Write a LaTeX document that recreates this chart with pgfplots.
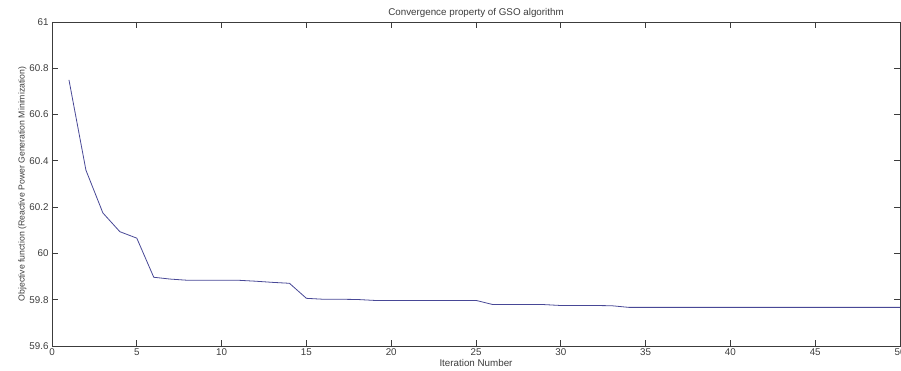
\documentclass[border=0pt]{standalone}
\usepackage{pgfplots}
\pgfplotsset{compat=1.18}
\usepackage{fontspec}
\setmainfont{Liberation Sans}
\definecolor{linec}{RGB}{72,72,150}
\definecolor{axc}{RGB}{60,60,60}
\begin{document}
\begin{tikzpicture}
\begin{axis}[
  name=ax,
  scale only axis,
  width=848pt, height=324pt,
  xmin=0, xmax=50, ymin=59.6, ymax=61,
  xtick={0,5,...,50},
  ytick={59.6,59.8,60,60.2,60.4,60.6,60.8,61},
  yticklabel style={/pgf/number format/fixed,/pgf/number format/precision=1},
  /pgf/number format/assume math mode=true,
  tick align=inside,
  major tick length=6pt,
  axis line style={axc, line width=0.8pt},
  tick style={axc, line width=0.8pt},
  ticklabel style={font=\fontsize{9.8}{11}\selectfont, text=axc},
  xticklabel style={yshift=1pt},
  title={Convergence property of GSO algorithm},
  title style={font=\fontsize{9.8}{11}\selectfont, text=axc, yshift=-5pt},
  xlabel={Iteration Number},
  xlabel style={font=\fontsize{9.8}{11}\selectfont, text=axc, yshift=3pt},
  ylabel={Objective function (Reactive Power Generation Minimization)},
  ylabel style={font=\fontsize{8.7}{10}\selectfont, text=axc, yshift=-4pt},
]
\addplot[linec, line width=0.8pt] coordinates {
(1,60.75) (2,60.36) (3,60.175) (4,60.094) (5,60.066) (6,59.897) (7,59.889)
(8,59.884) (9,59.884) (10,59.884) (11,59.884) (12,59.880) (13,59.875) (14,59.871)
(15,59.806) (16,59.802) (17,59.802) (18,59.801) (19,59.797) (20,59.797) (21,59.797)
(22,59.797) (23,59.797) (24,59.797) (25,59.797) (26,59.779) (27,59.779) (28,59.779)
(29,59.779) (30,59.775) (31,59.775) (32,59.775) (33,59.774) (34,59.767) (35,59.767)
(36,59.767) (37,59.767) (38,59.767) (39,59.767) (40,59.767) (41,59.767) (42,59.767)
(43,59.767) (44,59.767) (45,59.767) (46,59.767) (47,59.767) (48,59.767) (49,59.767) (50,59.767)
};
\end{axis}
\pgfresetboundingbox
\path[use as bounding box] ([xshift=-52pt,yshift=-24pt]ax.south west) rectangle ([xshift=1pt,yshift=22pt]ax.north east);
\end{tikzpicture}
\end{document}
